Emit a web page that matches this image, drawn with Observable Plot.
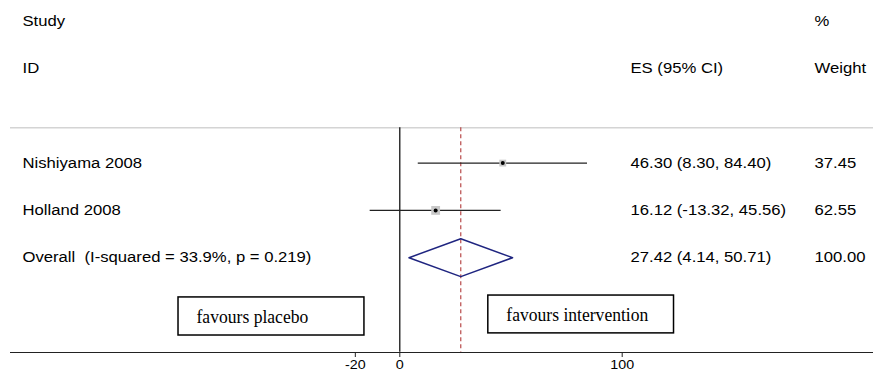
<!DOCTYPE html>
<html><head><meta charset="utf-8">
<script src="https://cdn.jsdelivr.net/npm/d3@7"></script>
<script src="https://cdn.jsdelivr.net/npm/@observablehq/plot@0.6"></script>
<style>
body{margin:0;background:#fff}
svg text{white-space:pre}
</style>
</head><body><div id="chart"></div>
<script>
// ---- data ----
const studies = ["Nishiyama 2008", "Holland 2008"];
const es = [46.30, 16.12];
const lo = [8.30, -13.32];
const hi = [84.40, 45.56];
const weights = [37.45, 62.55];
const overallLabel = "Overall  (I-squared = 33.9%, p = 0.219)";
const overallES = 27.42, overallLo = 4.14, overallHi = 50.71, overallWeight = 100.00;
const leftHeaders = ["Study", "ID"];
const esHeader = "ES (95% CI)";
const weightHeaders = ["%", "Weight"];
const xTicks = [-20, 0, 100];
const favours = ["favours placebo", "favours intervention"];

// ---- table built from arrays ----
const rows = studies.map((s, i) => ({label: s, es: es[i], lo: lo[i], hi: hi[i], w: weights[i], row: 3 + i}));
const fmtES = (e, l, h) => `${e.toFixed(2)} (${l.toFixed(2)}, ${h.toFixed(2)})`;
const textRows = [
  ...rows.map(r => ({label: r.label, esText: fmtES(r.es, r.lo, r.hi), wText: r.w.toFixed(2), row: r.row})),
  {label: overallLabel, esText: fmtES(overallES, overallLo, overallHi), wText: overallWeight.toFixed(2), row: 5}
];
const headerLeft = leftHeaders.map((h, i) => ({t: h, row: i}));
const headerW = weightHeaders.map((h, i) => ({t: h, row: i}));
const diamond = [[overallLo, 5], [overallES, 4.6], [overallHi, 5], [overallES, 5.4], [overallLo, 5]];

const navy = "#1f2580";
const chart = Plot.plot({
  width: 873,
  height: 373,
  marginLeft: 10,
  marginRight: 0,
  marginTop: 0,
  marginBottom: 21,
  style: {fontFamily: "'Liberation Sans', Arial, sans-serif", fontSize: "14px", background: "#fff", color: "#000"},
  x: {domain: [0, 100], range: [399.3, 621.7], axis: null},
  y: {domain: [0, 7], range: [20.7, 351.8], axis: null},
  r: {type: "sqrt", domain: [0, 100], range: [0, 6.3]},
  marks: [
    Plot.ruleY([2.25], {stroke: "#d4d4d4", strokeWidth: 1.5}),
    Plot.frame({anchor: "bottom", stroke: "#222"}),
    Plot.axisX({ticks: xTicks, tickSize: 5, tickPadding: 3, fontSize: 12, tickFormat: d => String(d), label: null, stroke: "#222"}),
    Plot.ruleX([0], {y1: 2.25, y2: 7, stroke: "#000", strokeWidth: 1.2}),
    Plot.ruleX([overallES], {y1: 2.25, y2: 7, stroke: "#b23a3a", strokeWidth: 1.1, strokeDasharray: "4,3"}),
    Plot.ruleY(rows, {y: "row", x1: "lo", x2: "hi", stroke: "#222", strokeWidth: 1.3}),
    Plot.dot(rows, {x: "es", y: "row", r: "w", symbol: "square", fill: "#c8c8c8", stroke: null}),
    Plot.dot(rows, {x: "es", y: "row", r: 2, fill: "#000", stroke: null}),
    Plot.line(diamond, {x: d => d[0], y: d => d[1], stroke: navy, strokeWidth: 1.5}),
    Plot.rect(favours, {x1: (d, i) => i ? 39.8 : -99.5, x2: (d, i) => i ? 123.3 : -15.9,
      y1: (d, i) => i ? 5.8 : 5.84, y2: (d, i) => i ? 6.6 : 6.645, fill: "#fff", stroke: "#000", strokeWidth: 1.5}),
    Plot.text(favours, {x: (d, i) => i ? 39.8 : -99.5, y: (d, i) => i ? 6.22 : 6.25, text: d => d, dx: 18,
      textAnchor: "start", fontFamily: "'Liberation Serif', 'Times New Roman', serif", fontSize: 18.5, className: "serif"}),
    Plot.text(headerLeft, {y: "row", text: "t", frameAnchor: "left", dx: 12, textAnchor: "start"}),
    Plot.text([esHeader], {y: [1], text: d => d, frameAnchor: "left", dx: 620, textAnchor: "start"}),
    Plot.text(headerW, {y: "row", text: "t", frameAnchor: "left", dx: 804, textAnchor: "start"}),
    Plot.text(textRows, {y: "row", text: "label", frameAnchor: "left", dx: 12, textAnchor: "start"}),
    Plot.text(textRows, {y: "row", text: "esText", frameAnchor: "left", dx: 620, textAnchor: "start"}),
    Plot.text(textRows, {y: "row", text: "wText", frameAnchor: "left", dx: 804, textAnchor: "start"})
  ]
});
document.getElementById("chart").append(chart);
// horizontal stretch of the text to mimic the reference's lettering proportions
chart.querySelectorAll("text").forEach(t => {
  const k = t.closest(".serif") ? 0.95 : 1.19;
  const L = t.getComputedTextLength();
  if (L > 0) { t.setAttribute("textLength", (L * k).toFixed(1)); t.setAttribute("lengthAdjust", "spacingAndGlyphs"); }
});
</script>
</body></html>
